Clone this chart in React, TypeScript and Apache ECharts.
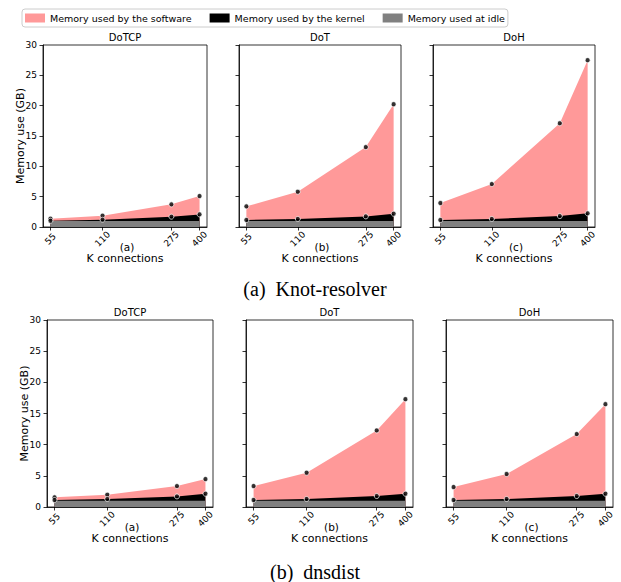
import React, { useEffect, useRef } from "react";
import * as echarts from "echarts";

// ---------- data ----------
const K_CONNECTIONS = [55, 110, 275, 400];
const PANEL_TITLES = ["DoTCP", "DoT", "DoH"];
const PANEL_TAGS = ["(a)", "(b)", "(c)"];
const LEGEND_NAMES = [
  "Memory used by the software",
  "Memory used by the kernel",
  "Memory used at idle",
];
const CAPTIONS = ["(a)  Knot-resolver", "(b)  dnsdist"];

const IDLE_GB = [1.0, 1.0, 1.0, 1.0];

// Knot-resolver: total memory (software on top) and idle+kernel level
const KNOT_DOTCP_TOTAL = [1.37, 1.87, 3.73, 5.1];
const KNOT_DOTCP_KERNEL = [1.03, 1.2, 1.7, 2.08];
const KNOT_DOT_TOTAL = [3.4, 5.81, 13.17, 20.24];
const KNOT_DOT_KERNEL = [1.15, 1.32, 1.75, 2.19];
const KNOT_DOH_TOTAL = [3.95, 7.08, 17.1, 27.5];
const KNOT_DOH_KERNEL = [1.15, 1.32, 1.8, 2.25];

// dnsdist
const DNSDIST_DOTCP_TOTAL = [1.55, 1.97, 3.36, 4.48];
const DNSDIST_DOTCP_KERNEL = [1.12, 1.28, 1.7, 2.13];
const DNSDIST_DOT_TOTAL = [3.36, 5.5, 12.28, 17.3];
const DNSDIST_DOT_KERNEL = [1.12, 1.28, 1.76, 2.13];
const DNSDIST_DOH_TOTAL = [3.2, 5.29, 11.7, 16.5];
const DNSDIST_DOH_KERNEL = [1.12, 1.28, 1.76, 2.13];

// ---------- style ----------
const PINK = "#ff9999";
const BLACK = "#000000";
const GRAY = "#808080";
const SANS = "DejaVu Sans";
const SERIF = "Liberation Serif";

const PANELS = [
  { total: KNOT_DOTCP_TOTAL, kernel: KNOT_DOTCP_KERNEL, col: 0, grid: { left: 43, top: 45, width: 164, height: 182 } },
  { total: KNOT_DOT_TOTAL, kernel: KNOT_DOT_KERNEL, col: 1, grid: { left: 239, top: 45, width: 162, height: 182 } },
  { total: KNOT_DOH_TOTAL, kernel: KNOT_DOH_KERNEL, col: 2, grid: { left: 433, top: 45, width: 162, height: 182 } },
  { total: DNSDIST_DOTCP_TOTAL, kernel: DNSDIST_DOTCP_KERNEL, col: 0, grid: { left: 47, top: 320, width: 166, height: 187 } },
  { total: DNSDIST_DOT_TOTAL, kernel: DNSDIST_DOT_KERNEL, col: 1, grid: { left: 246, top: 320, width: 167, height: 187 } },
  { total: DNSDIST_DOH_TOTAL, kernel: DNSDIST_DOH_KERNEL, col: 2, grid: { left: 446, top: 320, width: 167, height: 187 } },
];

const LOG_X = K_CONNECTIONS.map((k) => Math.log10(k));
const LOG_LO = LOG_X[0];
const LOG_HI = LOG_X[LOG_X.length - 1];
const LOG_PAD = 0.05 * (LOG_HI - LOG_LO);

function buildOption() {
  const grids: any[] = [];
  const xAxes: any[] = [];
  const yAxes: any[] = [];
  const series: any[] = [];
  const graphics: any[] = [];

  PANELS.forEach((p, i) => {
    grids.push({
      ...p.grid,
      show: true,
      borderColor: "#000",
      borderWidth: 0.8,
      backgroundColor: "transparent",
      containLabel: false,
      outerBoundsMode: "none",
    });
    xAxes.push({
      type: "value",
      gridIndex: i,
      min: LOG_LO - LOG_PAD,
      max: LOG_HI + LOG_PAD,
      splitLine: { show: false },
      axisLine: { show: true, onZero: false, lineStyle: { color: "#000", width: 0.8 } },
      axisTick: {
        show: true,
        inside: false,
        length: 3.5,
        customValues: LOG_X,
        lineStyle: { color: "#000", width: 0.8 },
      },
      axisLabel: {
        show: true,
        customValues: LOG_X,
        formatter: (v: number) => String(Math.round(Math.pow(10, v))),
        rotate: 45,
        align: "center",
        verticalAlign: "middle",
        margin: 12,
        fontSize: 9,
        fontFamily: SANS,
        color: "#000",
      },
      name: "K connections",
      nameLocation: "middle",
      nameGap: 26,
      nameMoveOverlap: false,
      nameTextStyle: { fontSize: 11, fontFamily: SANS, color: "#000" },
    });
    yAxes.push({
      type: "value",
      gridIndex: i,
      min: 0,
      max: 30,
      interval: 5,
      splitLine: { show: false },
      axisLine: { show: true, lineStyle: { color: "#000", width: 0.8 } },
      axisTick: { show: true, inside: false, length: 3.5, lineStyle: { color: "#000", width: 0.8 } },
      axisLabel: {
        show: p.col === 0,
        margin: 6,
        fontSize: 9,
        fontFamily: SANS,
        color: "#000",
      },
      name: p.col === 0 ? "Memory use (GB)" : "",
      nameLocation: "middle",
      nameGap: 17,
      nameMoveOverlap: false,
      nameTextStyle: { fontSize: 11, fontFamily: SANS, color: "#000" },
    });

    const toPts = (vals: number[]) => K_CONNECTIONS.map((k, j) => [Math.log10(k), vals[j]]);
    const layers = [
      { name: LEGEND_NAMES[0], vals: p.total, color: PINK },
      { name: LEGEND_NAMES[1], vals: p.kernel, color: BLACK },
      { name: LEGEND_NAMES[2], vals: IDLE_GB, color: GRAY },
    ];
    layers.forEach((l, li) => {
      series.push({
        type: "line",
        name: l.name,
        xAxisIndex: i,
        yAxisIndex: i,
        data: toPts(l.vals),
        symbol: "none",
        showSymbol: false,
        silent: true,
        lineStyle: { width: 0, color: l.color },
        itemStyle: { color: l.color },
        areaStyle: { color: l.color, opacity: 1, origin: "start" },
        z: 2 + li,
      });
    });
    series.push({
      type: "scatter",
      name: "points",
      xAxisIndex: i,
      yAxisIndex: i,
      data: [...toPts(p.total), ...toPts(p.kernel)],
      symbol: "circle",
      symbolSize: 5,
      silent: true,
      itemStyle: { color: "#000", borderColor: "#fff", borderWidth: 0.9 },
      z: 10,
    });

    const cx = p.grid.left + p.grid.width / 2;
    const bottom = p.grid.top + p.grid.height;
    graphics.push({
      type: "text",
      x: cx,
      y: p.grid.top - 8,
      style: {
        text: PANEL_TITLES[p.col],
        fill: "#000",
        font: `10px "${SANS}"`,
        textAlign: "center",
        textVerticalAlign: "middle",
        align: "center",
        verticalAlign: "middle",
      },
    });
    graphics.push({
      type: "text",
      x: cx + 2,
      y: bottom + 20,
      style: {
        text: PANEL_TAGS[p.col],
        fill: "#000",
        font: `10.5px "${SANS}"`,
        textAlign: "center",
        textVerticalAlign: "middle",
        align: "center",
        verticalAlign: "middle",
      },
    });
  });

  [289, 572].forEach((y, ci) => {
    graphics.push({
      type: "text",
      x: 315,
      y,
      style: {
        text: CAPTIONS[ci],
        fill: "#000",
        font: `20px "${SERIF}"`,
        textAlign: "center",
        textVerticalAlign: "middle",
        align: "center",
        verticalAlign: "middle",
      },
    });
  });

  return {
    animation: false,
    backgroundColor: "#fff",
    legend: {
      data: LEGEND_NAMES,
      left: 22,
      top: 9,
      orient: "horizontal",
      icon: "rect",
      itemWidth: 20,
      itemHeight: 9,
      itemGap: 18,
      padding: [4, 3],
      borderColor: "#cccccc",
      borderWidth: 1,
      borderRadius: 3,
      backgroundColor: "#fff",
      selectedMode: false,
      textStyle: { fontSize: 9.5, fontFamily: SANS, color: "#000" },
    },
    grid: grids,
    xAxis: xAxes,
    yAxis: yAxes,
    series,
    graphic: graphics,
  };
}

export default function App() {
  const ref = useRef<HTMLDivElement>(null);
  useEffect(() => {
    document.body.style.margin = "0";
    if (!ref.current) return;
    const chart = echarts.init(ref.current, undefined, { renderer: "svg" });
    chart.setOption(buildOption() as any);
    return () => chart.dispose();
  }, []);
  return <div ref={ref} style={{ width: 621, height: 582 }} />;
}
